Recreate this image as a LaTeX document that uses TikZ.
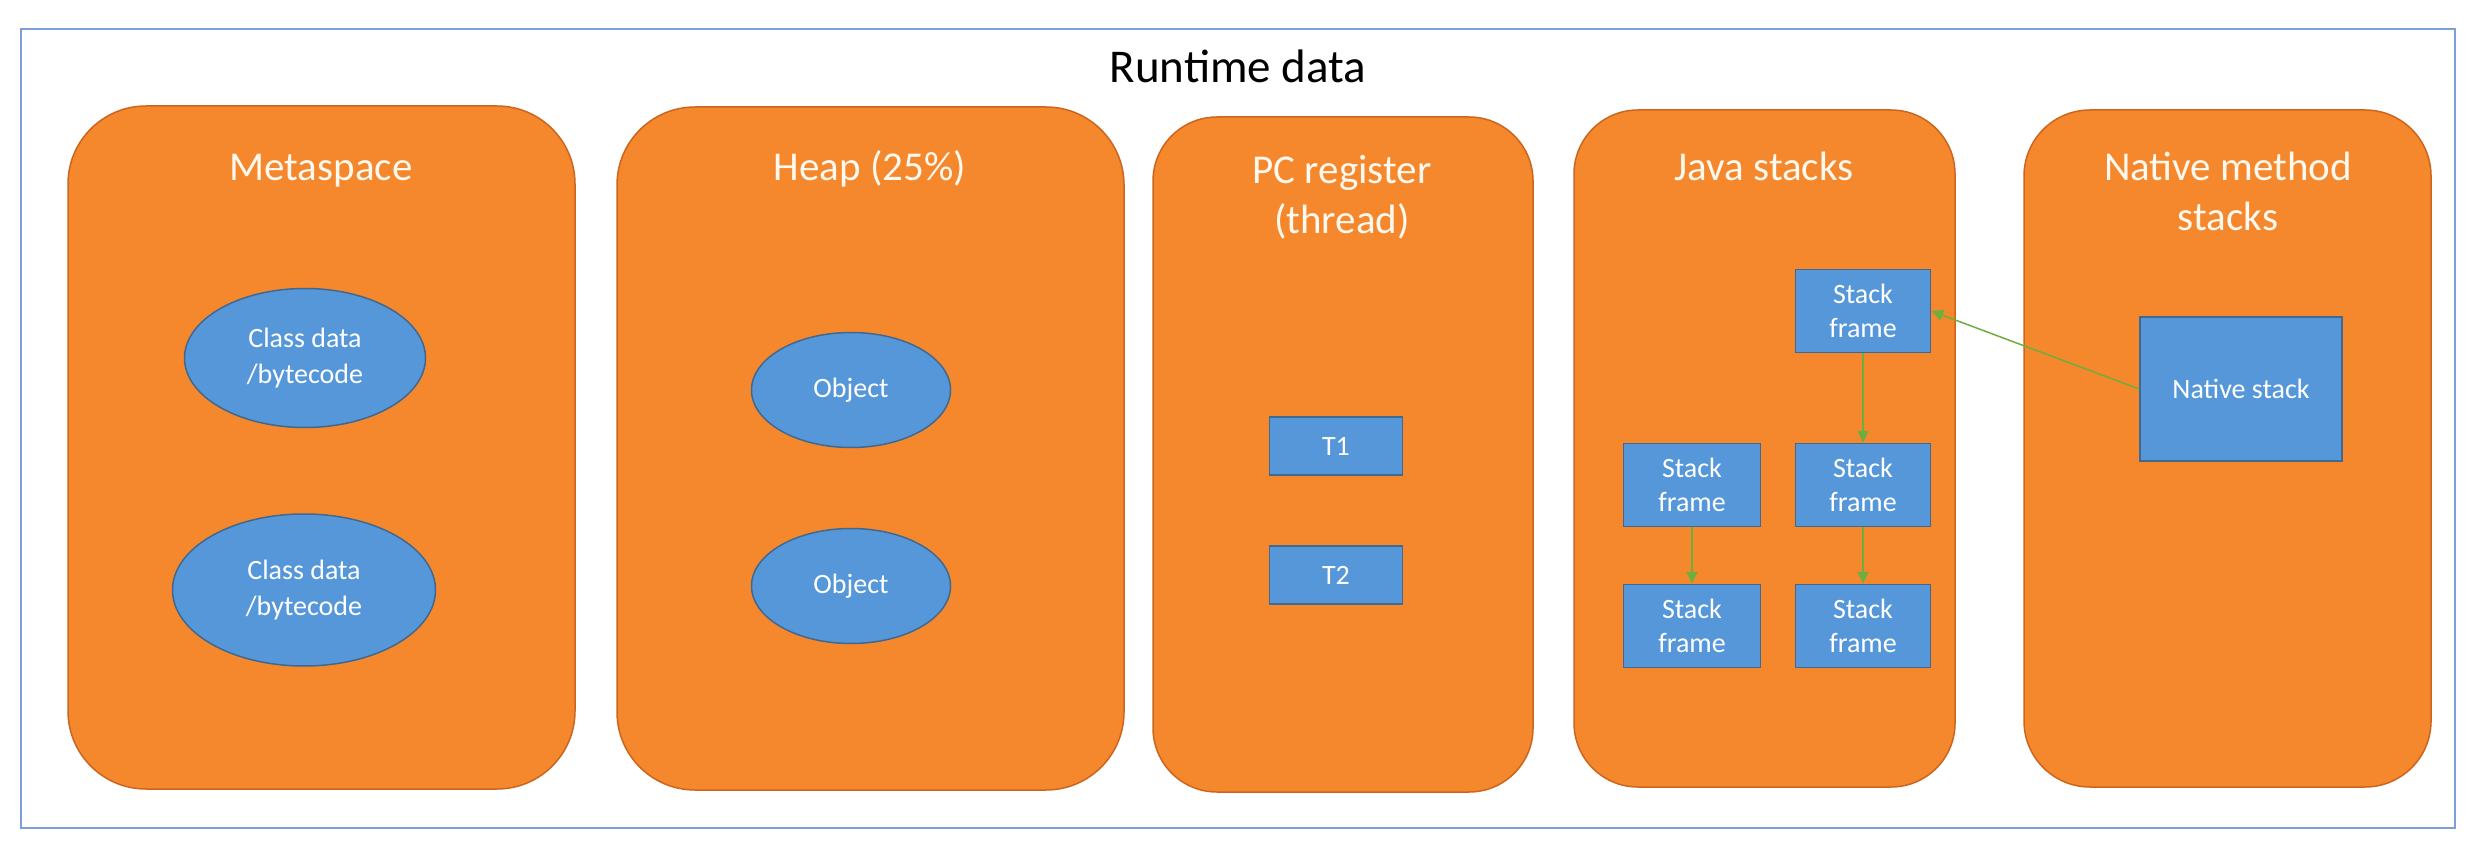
\documentclass[tikz,border=0pt]{standalone}
\usepackage{fontspec}
\setmainfont{Carlito}
\usetikzlibrary{shapes.geometric,arrows.meta}
\definecolor{frameblue}{HTML}{7E9ED9}
\definecolor{orfill}{HTML}{F5872D}
\definecolor{ordraw}{HTML}{CC661F}
\definecolor{blfill}{HTML}{5597D8}
\definecolor{bldraw}{HTML}{41688F}
\definecolor{grn}{HTML}{6EAE3E}
\definecolor{softwhite}{HTML}{FFF9F0}
\tikzset{
  area/.style={draw=ordraw, fill=orfill, line width=1.5pt},
  areatitle/.style={text=softwhite, font=\fontsize{41}{50}\selectfont, align=center},
  blob/.style={ellipse, draw=bldraw, fill=blfill, line width=1.5pt, text=white, align=center, font=\fontsize{28}{36}\selectfont, inner sep=0pt},
  cell/.style={rectangle, draw=bldraw, fill=blfill, line width=1.5pt, text=white, align=center, font=\fontsize{28}{34}\selectfont, inner sep=0pt},
  link/.style={draw=grn, line width=1.5pt, -{Triangle[length=12pt,width=11pt]}}
}
\begin{document}
\begin{tikzpicture}[x=1pt,y=-1pt]
\useasboundingbox (0,0) rectangle (2492,858);
\fill[white] (0,0) rectangle (2492,858);
\draw[frameblue, line width=2.5pt] (21,29) rectangle (2455,828);
\node[font=\fontsize{47}{56}\selectfont, anchor=base] (rt) at (1238,83) {Runtime data};
% areas
\draw[area, rounded corners=78pt] (68,106) rectangle (575,789);
\draw[area, rounded corners=78pt] (617,107) rectangle (1124,790);
\draw[area, rounded corners=64pt] (1153,117) rectangle (1533,792);
\draw[area, rounded corners=64pt] (1574,110) rectangle (1955,787);
\draw[area, rounded corners=66pt] (2024,110) rectangle (2431,787);
\node[areatitle, anchor=base] (tm) at (321,181) {Metaspace};
\node[areatitle, anchor=base] (th) at (870,181) {Heap (25\%)};
\node[areatitle] (tp) at (1342,197) {PC register\\(thread)};
\node[areatitle, anchor=base] (tj) at (1764,181) {Java stacks};
\node[areatitle] (tn) at (2228,191) {Native method\\stacks};
% metaspace
\node[blob, minimum width=241pt, minimum height=139pt] (m1) at (305,358) {Class data\\/bytecode};
\node[blob, minimum width=263pt, minimum height=152pt] (m2) at (304,590) {Class data\\/bytecode};
% heap
\node[blob, minimum width=199pt, minimum height=115pt] (h1) at (851,390) {Object};
\node[blob, minimum width=199pt, minimum height=115pt] (h2) at (851,586) {Object};
% pc
\node[cell, minimum width=133pt, minimum height=58pt] (t1) at (1336,446) {T1};
\node[cell, minimum width=133pt, minimum height=58pt] (t2) at (1336,575) {T2};
% java stacks
\node[cell, minimum width=135pt, minimum height=83pt] (s1) at (1863,311) {Stack\\frame};
\node[cell, minimum width=135pt, minimum height=83pt] (s2) at (1863,485) {Stack\\frame};
\node[cell, minimum width=135pt, minimum height=83pt] (s3) at (1863,626) {Stack\\frame};
\node[cell, minimum width=137pt, minimum height=83pt] (s4) at (1692,485) {Stack\\frame};
\node[cell, minimum width=137pt, minimum height=83pt] (s5) at (1692,626) {Stack\\frame};
% native
\node[cell, minimum width=202pt, minimum height=144pt] (ns) at (2241,389) {Native stack};
% links
\draw[link] (s1) -- (s2);
\draw[link] (s2) -- (s3);
\draw[link] (s4) -- (s5);
\draw[link] (ns.west) -- (s1.east);
\end{tikzpicture}
\end{document}
